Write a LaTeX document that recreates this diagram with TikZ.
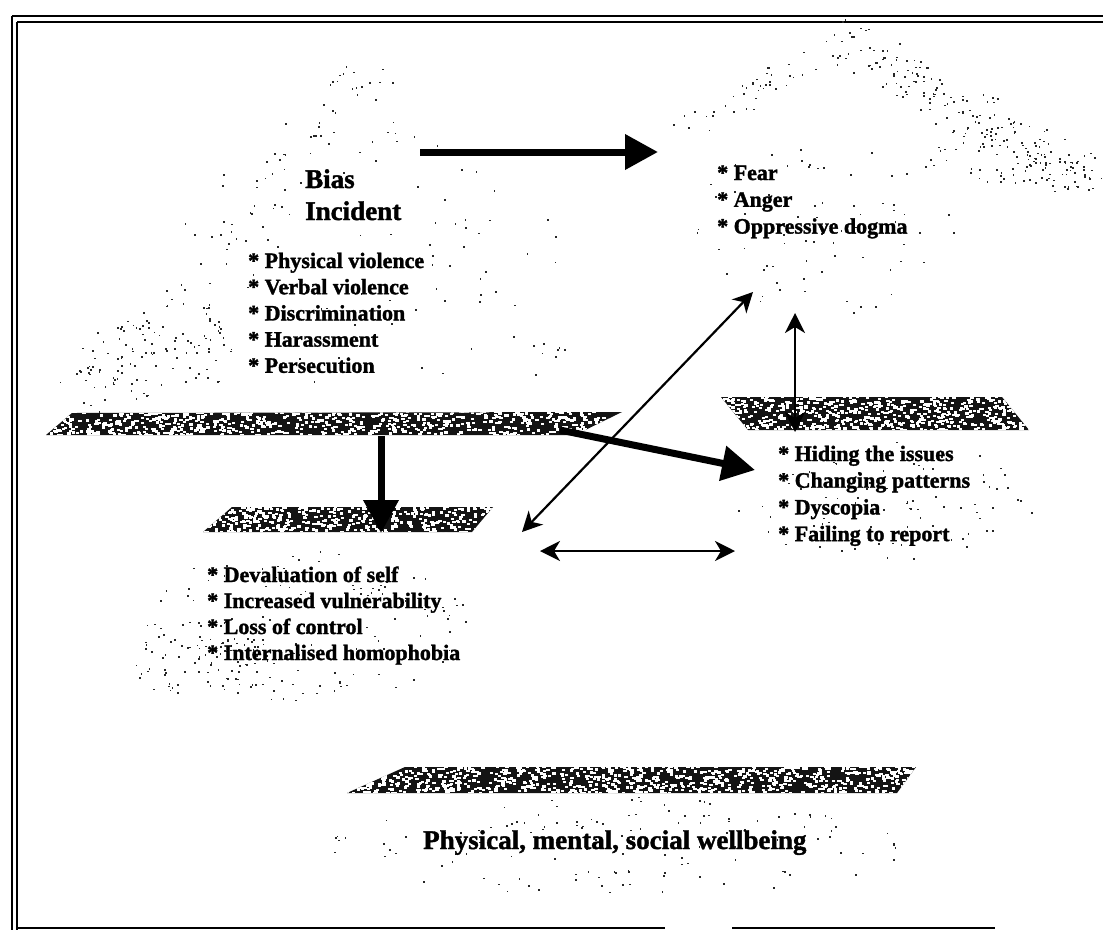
\documentclass[tikz,border=0pt]{standalone}
\usepackage{fontspec}
\setmainfont{Liberation Serif}[BoldFeatures={FakeBold=1.5}]
\usetikzlibrary{arrows.meta}

% scattered grain inside an ellipse: centre x, centre y, half axes, count
\newcommand\speckle[5]{%
  \foreach \k in {1,...,#5}{%
    \pgfmathsetmacro\spr{sqrt(rnd)}%
    \pgfmathsetmacro\spa{360*rnd}%
    \fill[speck] ({#1+#3*\spr*cos(\spa)},{#2+#4*\spr*sin(\spa)}) rectangle ++(1.7,1.7);
  }%
}
% scattered grain along a band: start, end, half width, count
\newcommand\speckleline[6]{%
  \foreach \k in {1,...,#6}{%
    \pgfmathsetmacro\spt{rnd}%
    \pgfmathsetmacro\spu{2*rnd-1}%
    \pgfmathsetmacro\spv{2*rnd-1}%
    \fill[speck] ({#1+(#3-#1)*\spt+#5*\spu},{#2+(#4-#2)*\spt+#5*\spv}) rectangle ++(1.7,1.7);
  }%
}
% white mottling in a box (used under a clip): left, top, right, bottom, count
\newcommand\mottle[5]{%
  \foreach \k in {1,...,#5}{%
    \pgfmathsetmacro\spx{#1+(#3-#1)*rnd}%
    \pgfmathsetmacro\spy{#2+(#4-#2)*rnd}%
    \fill[white] (\spx,\spy) rectangle ++(3.2,2.3);
  }%
}

\tikzset{
  speck/.style={fill=black!85},
  plate/.style={fill=black!92},
  frameline/.style={line width=2.4pt, black},
  heading/.style={font=\fontsize{27}{32}\selectfont\bfseries, inner sep=0pt, anchor=base west},
  item/.style={font=\fontsize{22}{26}\selectfont\bfseries, inner sep=0pt, anchor=base west},
  bigarrow/.style={line width=7pt, -{Triangle[length=33pt,width=34pt]}},
  linkarrow/.style={line width=2.2pt,
    {Stealth[length=20pt,width=20pt,inset=6pt]}-{Stealth[length=20pt,width=20pt,inset=6pt]}},
}

\begin{document}
\begin{tikzpicture}[x=1pt,y=-1pt]
\useasboundingbox (0,0) rectangle (1103,930);
\fill[white] (0,0) rectangle (1103,930);

% outer frame: double rule on top and left, broken rule at the bottom
\draw[frameline] (12,16) -- (1103,16);
\draw[frameline, line width=2pt] (17,22) -- (1103,22);
\draw[frameline] (12,16) -- (12,930);
\draw[frameline, line width=2pt] (17,22) -- (17,930);
\draw[line width=1.5pt] (17,928) -- (665,928);
\draw[line width=2.4pt] (229,928) -- (338,928);
\draw[line width=1.5pt] (732,928) -- (995,928);

% pale stippled faces
\pgfmathsetseed{17}
% upper left plate
\speckleline{70}{405}{365}{75}{22}{80}
\speckleline{365}{75}{560}{385}{20}{30}
\speckle{150}{360}{80}{40}{80}
\speckleline{204}{303}{232}{353}{4}{18}
\speckle{360}{260}{200}{130}{60}
% upper right plate
\speckleline{680}{130}{845}{40}{14}{45}
\speckleline{845}{40}{1085}{180}{22}{190}
\speckle{1000}{160}{80}{25}{50}
\speckle{820}{230}{140}{85}{70}
% right plate
\speckle{885}{500}{150}{60}{90}
% middle plate
\speckle{300}{625}{170}{75}{140}
\speckle{200}{660}{70}{40}{80}
% lower plate
\speckle{620}{845}{290}{50}{130}

% dark mottled edges of the four plates
\begin{scope}
  \clip (46,435) -- (72,413) -- (622,412) -- (575,435) -- cycle;
  \fill[plate] (40,405) rectangle (630,440);
  \mottle{40}{410}{630}{437}{850}
\end{scope}
\begin{scope}
  \clip (203,532) -- (232,507) -- (493,507) -- (472,532) -- cycle;
  \fill[plate] (200,500) rectangle (500,540);
  \mottle{200}{505}{495}{533}{470}
\end{scope}
\begin{scope}
  \clip (721,397) -- (1002,397) -- (1029,430) -- (748,430) -- cycle;
  \fill[plate] (715,390) rectangle (1035,435);
  \mottle{718}{395}{1030}{431}{680}
\end{scope}
\begin{scope}
  \clip (347,793) -- (405,767) -- (916,767) -- (897,793) -- cycle;
  \fill[plate] (340,760) rectangle (920,800);
  \mottle{345}{765}{918}{794}{950}
\end{scope}

% texts
\node[heading] (bias) at (305,188) {Bias};
\node[heading] (incident) at (305,220) {Incident};
\foreach \t [count=\i] in {Physical violence, Verbal violence, Discrimination, Harassment, Persecution}
  \node[item] (harm-\i) at (248,{268+26.2*(\i-1)}) {* \t};
\foreach \t [count=\i] in {Fear, Anger, Oppressive dogma}
  \node[item] (feel-\i) at (717,{180+26.8*(\i-1)}) {* \t};
\foreach \t [count=\i] in {Hiding the issues, Changing patterns, Dyscopia, Failing to report}
  \node[item] (cope-\i) at (778,{461+26.7*(\i-1)}) {* \t};
\foreach \t [count=\i] in {Devaluation of self, Increased vulnerability, Loss of control, Internalised homophobia}
  \node[item] (self-\i) at (207,{582+26*(\i-1)}) {* \t};
\node[heading] (wellbeing) at (423,849) {Physical, mental, social wellbeing};

% connector end points
\coordinate (biasOut) at (420,152);
\coordinate (feelIn) at (658,152);
\coordinate (plateOut) at (560,430);
\coordinate (copeIn) at (755,470);
\coordinate (plateDown) at (381,436);
\coordinate (selfIn) at (381,533);
\coordinate (selfUp) at (522,532);
\coordinate (feelDown) at (753,292);
\coordinate (feelLow) at (795,313);
\coordinate (copeTop) at (795,432);
\coordinate (selfRight) at (540,551);
\coordinate (copeLeft) at (735,551);

% connectors
\draw[bigarrow] (biasOut) -- (feelIn);
\draw[bigarrow] (plateOut) -- (copeIn);
\draw[bigarrow] (plateDown) -- (selfIn);
\draw[linkarrow] (selfUp) -- (feelDown);
\draw[linkarrow] (feelLow) -- (copeTop);
\draw[linkarrow] (selfRight) -- (copeLeft);
\end{tikzpicture}
\end{document}
